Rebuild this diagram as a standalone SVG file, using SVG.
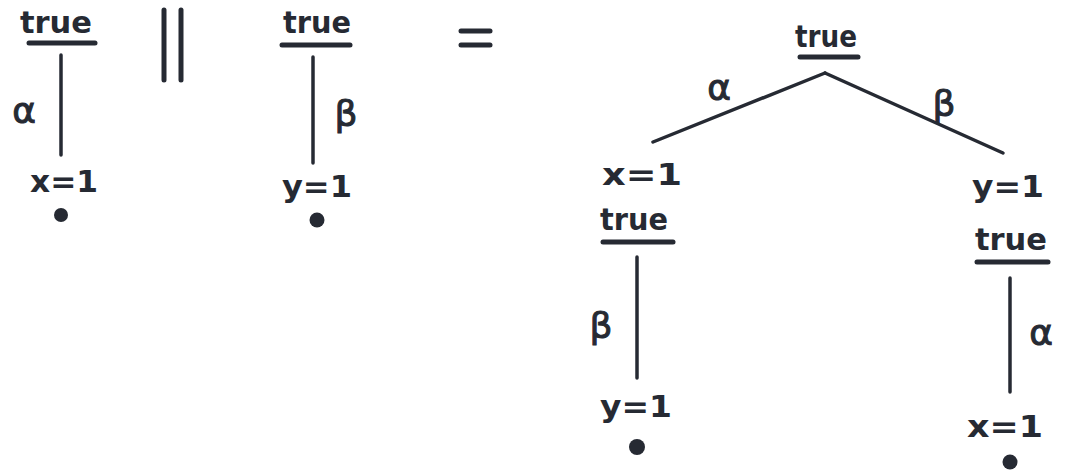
<svg xmlns="http://www.w3.org/2000/svg" width="1068" height="476" viewBox="0 0 1068 476">
<style>
.t{font-family:"DejaVu Sans",sans-serif;font-size:31px;font-weight:bold;fill:#262a33;text-anchor:middle}
.g{font-family:"DejaVu Sans",sans-serif;font-size:36px;fill:#262a33;text-anchor:middle;stroke:#262a33;stroke-width:1}
.u{stroke:#262a33;stroke-width:5;stroke-linecap:round}
.e{stroke:#262a33;stroke-width:3.5;stroke-linecap:round;fill:none}
.d{fill:#262a33}
</style>
<rect width="1068" height="476" fill="#ffffff"/>
<g id="connectors">
<line class="e" x1="61" y1="55" x2="61" y2="155"/>
<line class="e" x1="313" y1="57" x2="313" y2="163"/>
<line class="e" x1="825" y1="73" x2="653" y2="142"/>
<line class="e" x1="825" y1="73" x2="1003" y2="153"/>
<line class="e" x1="637" y1="257" x2="637" y2="378"/>
<line class="e" x1="1010" y1="278" x2="1010" y2="392"/>
<text class="g" x="24" y="123">α</text>
<text class="g" x="346" y="126">β</text>
<text class="g" x="719" y="100">α</text>
<text class="g" x="944" y="116">β</text>
<text class="g" x="601" y="338">β</text>
<text class="g" x="1041" y="345">α</text>
</g>
<g id="ops">
<line class="u" x1="164" y1="10" x2="164" y2="80"/>
<line class="u" x1="181" y1="10" x2="181" y2="80"/>
<line class="u" x1="461" y1="31" x2="490" y2="31"/>
<line class="u" x1="461" y1="45" x2="490" y2="45"/>
</g>
<g id="t1-root">
<text class="t" x="56" y="33" textLength="72" lengthAdjust="spacingAndGlyphs">true</text>
<line class="u" x1="29" y1="43" x2="95" y2="43"/>
</g>
<g id="t1-leaf">
<text class="t" x="64" y="192" textLength="68" lengthAdjust="spacingAndGlyphs">x=1</text>
<circle class="d" cx="61" cy="215" r="7"/>
</g>
<g id="t2-root">
<text class="t" x="317" y="33" textLength="68" lengthAdjust="spacingAndGlyphs">true</text>
<line class="u" x1="282" y1="45" x2="350" y2="45"/>
</g>
<g id="t2-leaf">
<text class="t" x="317" y="197" textLength="70" lengthAdjust="spacingAndGlyphs">y=1</text>
<circle class="d" cx="317" cy="220" r="7.5"/>
</g>
<g id="r-root">
<text class="t" x="826" y="47" textLength="62" lengthAdjust="spacingAndGlyphs">true</text>
<line class="u" x1="800" y1="57" x2="858" y2="57"/>
</g>
<g id="r-left">
<text class="t" x="642" y="185" textLength="80" lengthAdjust="spacingAndGlyphs">x=1</text>
<text class="t" x="634" y="230" textLength="68" lengthAdjust="spacingAndGlyphs">true</text>
<line class="u" x1="603" y1="242" x2="673" y2="242"/>
</g>
<g id="r-left-leaf">
<text class="t" x="636" y="417" textLength="72" lengthAdjust="spacingAndGlyphs">y=1</text>
<circle class="d" cx="637" cy="447" r="8"/>
</g>
<g id="r-right">
<text class="t" x="1008" y="197" textLength="72" lengthAdjust="spacingAndGlyphs">y=1</text>
<text class="t" x="1011" y="250" textLength="72" lengthAdjust="spacingAndGlyphs">true</text>
<line class="u" x1="977" y1="262" x2="1048" y2="262"/>
</g>
<g id="r-right-leaf">
<text class="t" x="1005" y="437" textLength="76" lengthAdjust="spacingAndGlyphs">x=1</text>
<circle class="d" cx="1010" cy="462" r="7.5"/>
</g>
</svg>
